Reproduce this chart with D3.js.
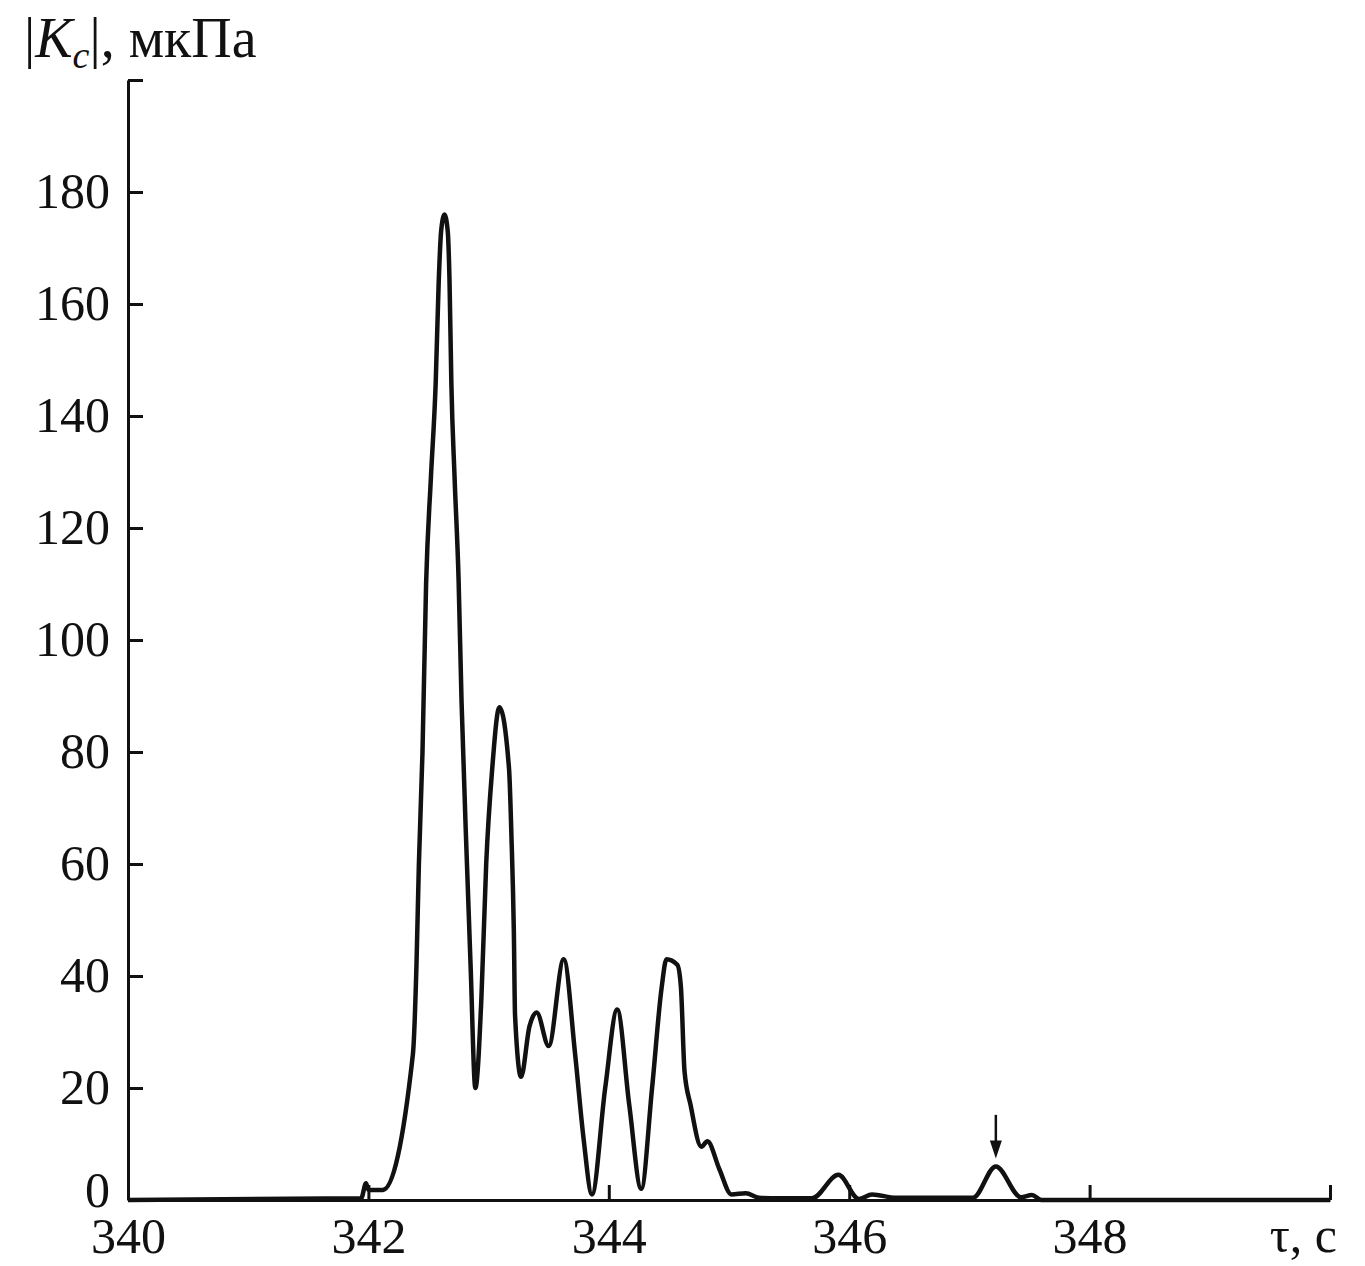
<!DOCTYPE html>
<html>
<head>
<meta charset="utf-8">
<script src="https://cdn.jsdelivr.net/npm/d3@7"></script>
<style>
  body { margin: 0; background: #fff; }
  svg text { font-family: "Liberation Serif", "DejaVu Serif", serif; fill: #111; }
</style>
</head>
<body>
<div id="chart"></div>
<script>
// time, s
const tau = [
  340.0, 341.94, 341.98, 342.0, 342.12, 342.37, 342.40, 342.42, 342.45, 342.48,
  342.52, 342.56, 342.585, 342.605, 342.633, 342.66, 342.675, 342.69, 342.717, 342.75,
  342.775, 342.82, 342.85, 342.89, 342.94, 342.98, 343.03, 343.09, 343.17, 343.19,
  343.21, 343.22, 343.27, 343.34, 343.40, 343.50, 343.625, 343.72, 343.79, 343.86,
  343.97, 344.07, 344.17, 344.27, 344.36, 344.44, 344.48, 344.57, 344.60, 344.63,
  344.68, 344.77, 344.82, 344.92, 345.02, 345.14, 345.25, 345.42, 345.69, 345.91,
  346.08, 346.19, 346.39, 347.03, 347.22, 347.43, 347.52, 347.6, 350.0
];
// |Kc|, мкПа
const kc = [
  0, 0.3, 3, 1.8, 1.8, 26, 42, 60, 80, 110,
  129, 146, 164, 173, 176, 173, 164, 146, 129, 111,
  89, 60, 42, 20, 36, 60, 77, 88, 77, 65,
  48, 33, 22, 31, 33.5, 27.5, 43, 26, 11, 1,
  20, 34, 17, 2, 20, 38, 43, 42, 38, 23,
  17, 9.5, 10.5, 5.5, 1, 1.2, 0.4, 0.3, 0.3, 4.5,
  0.2, 1.0, 0.4, 0.4, 6, 0.5, 0.9, 0, 0
];
const xTicks = [340, 342, 344, 346, 348, 350];
const yTicks = [0, 20, 40, 60, 80, 100, 120, 140, 160, 180, 200];
// arrow marking the small peak: [tau, from, to]
const arrowMark = [347.22, 15.2, 7.4];

const W = 1365, H = 1266;
const fontSize = 50;

const svg = d3.select("#chart").append("svg")
  .attr("width", W)
  .attr("height", H);

const x = d3.scaleLinear().domain([340, 350]).range([128, 1330]);
const y = d3.scaleLinear().domain([0, 200]).range([1200, 80]);

// y axis, ticks pointing inward
const yAxis = svg.append("g")
  .attr("transform", `translate(${x(340)},0)`)
  .call(d3.axisLeft(y)
    .tickValues(yTicks)
    .tickSizeInner(-15)
    .tickSizeOuter(0)
    .tickPadding(18)
    .tickFormat(d => d === 200 ? "" : d));

// x axis, ticks pointing up
const xAxis = svg.append("g")
  .attr("transform", `translate(0,${y(0)})`)
  .call(d3.axisBottom(x)
    .tickValues(xTicks)
    .tickSizeInner(-15)
    .tickSizeOuter(0)
    .tickPadding(20)
    .tickFormat(d => d === 350 ? "" : d));

[yAxis, xAxis].forEach(g => {
  g.attr("font-size", null).attr("font-family", null);
  g.selectAll("path, line").attr("stroke", "#111").attr("stroke-width", 3);
  g.selectAll("text").style("font-size", fontSize + "px").attr("fill", "#111");
});
yAxis.selectAll("text").attr("dy", "0.3em");
// the 0 label sits a little higher so it clears the 340 label
yAxis.selectAll(".tick").filter(d => d === 0).select("text").attr("dy", "0.12em");
xAxis.selectAll("text").attr("dy", "0.66em");
xAxis.selectAll(".tick").filter(d => d === 340).select("line").remove();

// curve
const line = d3.line()
  .x((d, i) => x(tau[i]))
  .y(d => y(d))
  .curve(d3.curveMonotoneX);

svg.append("path")
  .datum(kc)
  .attr("fill", "none")
  .attr("stroke", "#111")
  .attr("stroke-width", 4.5)
  .attr("stroke-linejoin", "round")
  .attr("d", line);

// arrow
const ax = x(arrowMark[0]), ay1 = y(arrowMark[1]), ay2 = y(arrowMark[2]);
svg.append("line")
  .attr("x1", ax).attr("x2", ax)
  .attr("y1", ay1).attr("y2", ay2 - 12)
  .attr("stroke", "#111")
  .attr("stroke-width", 2.5);
svg.append("path")
  .attr("d", `M${ax - 6},${ay2 - 18}L${ax + 6},${ay2 - 18}L${ax},${ay2}Z`)
  .attr("fill", "#111");

// y title
const yTitle = svg.append("text")
  .attr("x", 24)
  .attr("y", 57)
  .style("font-size", "56px");
yTitle.append("tspan").text("|");
yTitle.append("tspan").attr("font-style", "italic").text("K");
yTitle.append("tspan").attr("font-style", "italic").attr("dy", 11).style("font-size", "38px").text("c");
yTitle.append("tspan").attr("dy", -11).text("|, мкПа");

// x title
svg.append("text")
  .attr("x", 1337)
  .attr("y", 1252)
  .attr("text-anchor", "end")
  .style("font-size", fontSize + "px")
  .text("τ, с");
</script>
</body>
</html>
